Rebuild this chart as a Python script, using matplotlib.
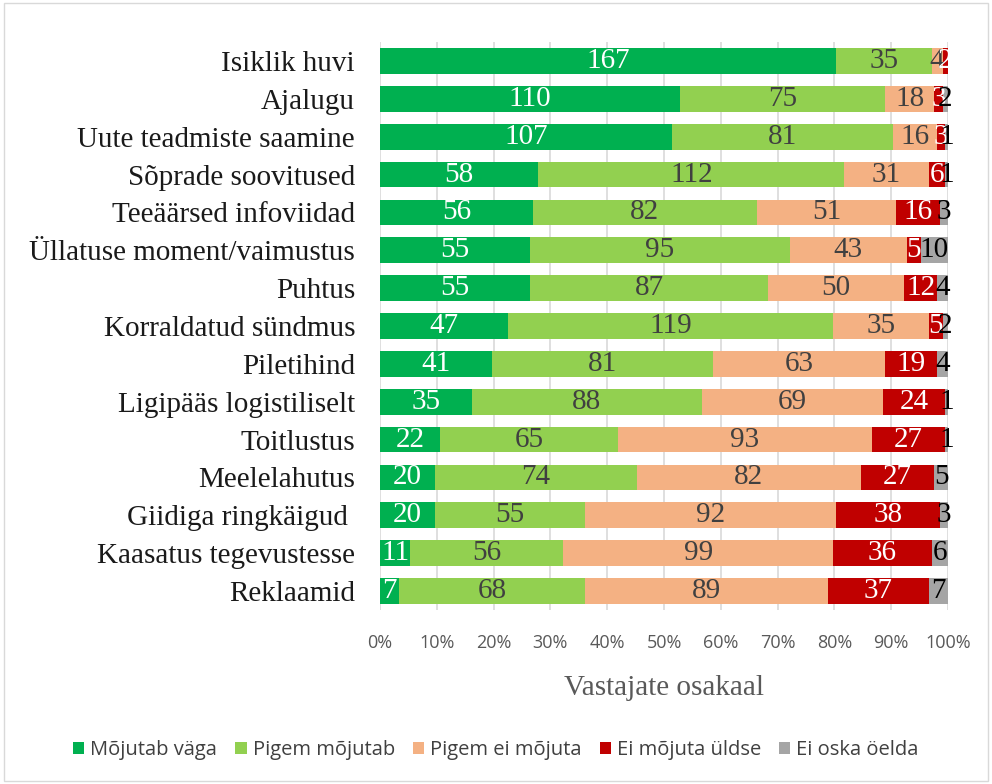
"""
Stacked 100% bar chart: factors influencing visit decision.
"""

import matplotlib

matplotlib.use("Agg")
import matplotlib.pyplot as plt
import numpy as np
from matplotlib.patches import Rectangle

CATEGORIES = [
    "Isiklik huvi",
    "Ajalugu",
    "Uute teadmiste saamine",
    "Sõprade soovitused",
    "Teeäärsed infoviidad",
    "Üllatuse moment/vaimustus",
    "Puhtus",
    "Korraldatud sündmus",
    "Piletihind",
    "Ligipääs logistiliselt",
    "Toitlustus",
    "Meelelahutus",
    "Giidiga ringkäigud ",
    "Kaasatus tegevustesse",
    "Reklaamid",
]

MOJUTAB_VAGA = [167, 110, 107, 58, 56, 55, 55, 47, 41, 35, 22, 20, 20, 11, 7]
PIGEM_MOJUTAB = [35, 75, 81, 112, 82, 95, 87, 119, 81, 88, 65, 74, 55, 56, 68]
PIGEM_EI_MOJUTA = [4, 18, 16, 31, 51, 43, 50, 35, 63, 69, 93, 82, 92, 99, 89]
EI_MOJUTA_ULDSE = [2, 3, 3, 6, 16, 5, 12, 5, 19, 24, 27, 27, 38, 36, 37]
EI_OSKA = [0, 2, 1, 1, 3, 10, 4, 2, 4, 1, 1, 5, 3, 6, 7]

SERIES = [
    ("Mõjutab väga", MOJUTAB_VAGA, "#00B050", "white"),
    ("Pigem mõjutab", PIGEM_MOJUTAB, "#92D050", "#404040"),
    ("Pigem ei mõjuta", PIGEM_EI_MOJUTA, "#F4B183", "#404040"),
    ("Ei mõjuta üldse", EI_MOJUTA_ULDSE, "#C00000", "white"),
    ("Ei oska öelda", EI_OSKA, "#A5A5A5", "black"),
]

SERIF = "Liberation Serif"
SANS = "Open Sans"

counts = np.array([s[1] for s in SERIES], dtype=float)
totals = counts.sum(axis=0)
shares = counts / totals

fig = plt.figure(figsize=(9.92, 7.84), dpi=100)
fig.patches.append(
    Rectangle((0.004, 0.004), 0.992, 0.992, transform=fig.transFigure,
              fill=False, edgecolor="#d9d9d9", linewidth=1.0)
)
ax = fig.add_axes([380 / 992, 1 - 610 / 784, 568 / 992, 568 / 784])

y = np.arange(len(CATEGORIES))
left = np.zeros(len(CATEGORIES))
for (name, vals, color, tcolor), share in zip(SERIES, shares):
    ax.barh(y, share, left=left, height=0.68, color=color, label=name, zorder=2)
    for i, (v, s) in enumerate(zip(vals, share)):
        if v == 0:
            continue
        ax.text(left[i] + s / 2, y[i], str(v), ha="center", va="center",
                fontsize=21, family=SERIF, color=tcolor, zorder=3)
    left += share

ax.set_ylim(len(CATEGORIES) - 0.5, -0.5)
ax.set_xlim(0, 1)
ax.set_yticks(y)
ax.set_yticklabels(CATEGORIES, fontsize=21, family=SERIF, color="#1a1a1a")
ticks = np.linspace(0, 1, 11)
ax.set_xticks(ticks)
ax.set_xticklabels([f"{int(round(t * 100))}%" for t in ticks], fontsize=13,
                   family=SANS, color="#595959")
ax.tick_params(length=0)
ax.tick_params(axis="x", pad=17)
ax.tick_params(axis="y", pad=18)
ax.grid(axis="x", color="#d9d9d9", linewidth=1.2, zorder=0)
for sp in ax.spines.values():
    sp.set_visible(False)
ax.set_xlabel("Vastajate osakaal", fontsize=21, family=SERIF, color="#595959",
              labelpad=17)

fig.legend(loc="center", bbox_to_anchor=(0.5, 1 - 750 / 784), ncol=5,
           frameon=False, handlelength=0.55, handleheight=0.55, handletextpad=0.3,
           columnspacing=0.9, prop={"family": SANS, "size": 14.5})
for t in fig.legends[0].get_texts():
    t.set_color("#404040")

fig.savefig("out.png", dpi=100)
